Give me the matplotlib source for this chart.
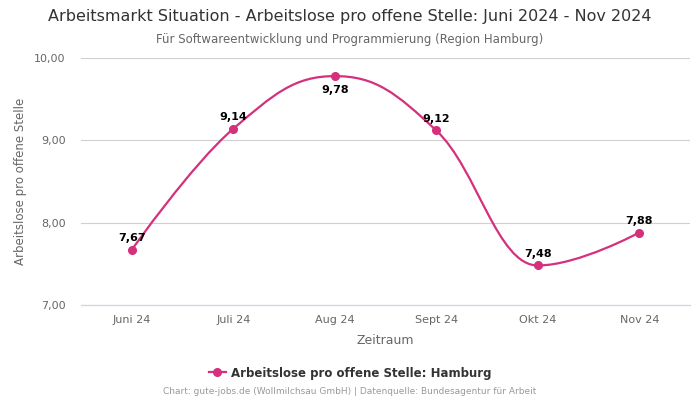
import matplotlib
matplotlib.use("Agg")
import matplotlib.pyplot as plt
from matplotlib.path import Path
from matplotlib.patches import PathPatch
from matplotlib.lines import Line2D
import numpy as np

categories = ["Juni 24", "Juli 24", "Aug 24", "Sept 24", "Okt 24", "Nov 24"]
values = [7.67, 9.14, 9.78, 9.12, 7.48, 7.88]
y_ticks = [7.0, 8.0, 9.0, 10.0]
series_name = "Arbeitslose pro offene Stelle: Hamburg"
title = "Arbeitsmarkt Situation - Arbeitslose pro offene Stelle: Juni 2024 - Nov 2024"
subtitle = "Für Softwareentwicklung und Programmierung (Region Hamburg)"
footer = "Chart: gute-jobs.de (Wollmilchsau GmbH) | Datenquelle: Bundesagentur für Arbeit"

COLOR = "#d4307c"
plt.rcParams['font.family'] = ['DejaVu Sans']

fig = plt.figure(figsize=(7, 4), dpi=100)
ax = fig.add_axes([81/700, 1-305/400, (690-81)/700, (305-58)/400])

xs = np.arange(len(values), dtype=float)
ys = np.array(values, dtype=float)

def spline_controls(xs, ys, smoothing=1.5):
    n = len(xs)
    left = [None]*n
    right = [None]*n
    denom = smoothing + 1
    for i in range(n):
        if i == 0 or i == n-1:
            left[i] = (xs[i], ys[i]); right[i] = (xs[i], ys[i]); continue
        px, py = xs[i], ys[i]
        lx, ly = xs[i-1], ys[i-1]
        nx, ny = xs[i+1], ys[i+1]
        lcx = (smoothing*px + lx)/denom; lcy = (smoothing*py + ly)/denom
        rcx = (smoothing*px + nx)/denom; rcy = (smoothing*py + ny)/denom
        if rcx != lcx:
            corr = ((rcy - lcy)*(rcx - px))/(rcx - lcx) + py - rcy
            lcy += corr; rcy += corr
        if lcy > ly and lcy > py:
            lcy = max(ly, py); rcy = 2*py - lcy
        elif lcy < ly and lcy < py:
            lcy = min(ly, py); rcy = 2*py - lcy
        if rcy > ny and rcy > py:
            rcy = max(ny, py); lcy = 2*py - rcy
        elif rcy < ny and rcy < py:
            rcy = min(ny, py); lcy = 2*py - rcy
        left[i] = (lcx, lcy); right[i] = (rcx, rcy)
    return left, right

left, right = spline_controls(xs, ys)
verts = [(xs[0], ys[0])]
codes = [Path.MOVETO]
for i in range(1, len(xs)):
    verts += [right[i-1], left[i], (xs[i], ys[i])]
    codes += [Path.CURVE4]*3
ax.add_patch(PathPatch(Path(verts, codes), fill=False, edgecolor=COLOR, lw=1.6, zorder=3))
ax.plot(xs, ys, 'o', color=COLOR, ms=5.5, zorder=4)

for i, v in enumerate(values):
    lab = f"{v:.2f}".replace(".", ",")
    if v >= 9.7:
        ax.annotate(lab, (xs[i], v), xytext=(0, -10), textcoords='offset points',
                    ha='center', va='center', fontsize=8, fontweight='bold', color='#000000', zorder=5)
    else:
        ax.annotate(lab, (xs[i], v), xytext=(0, 8.5), textcoords='offset points',
                    ha='center', va='center', fontsize=8, fontweight='bold', color='#000000', zorder=5)

ax.set_xlim(-0.5, len(values)-0.5)
ax.set_ylim(7.0, 10.0)
ax.set_yticks(y_ticks)
ax.set_yticklabels([f"{t:.2f}".replace(".", ",") for t in y_ticks])
ax.set_xticks(xs)
ax.set_xticklabels(categories)
ax.tick_params(axis='both', length=0, labelsize=8, colors='#666666')
ax.tick_params(axis='x', pad=7.5)
ax.tick_params(axis='y', pad=11)
ax.grid(axis='y', color='#d0d0d0', lw=0.8)
ax.set_axisbelow(True)
for s in ['top', 'right', 'left']:
    ax.spines[s].set_visible(False)
ax.spines['bottom'].set_color('#ccd6eb')
ax.spines['bottom'].set_linewidth(0.9)

ax.set_xlabel("Zeitraum", fontsize=9, color='#666666', labelpad=6)
fig.text(21/700, 1-181/400, "Arbeitslose pro offene Stelle", rotation=90, ha='center', va='center',
         fontsize=8.5, color='#666666')

fig.text(0.5, 1-17/400, title, ha='center', va='center', fontsize=11.5, color='#333333')
fig.text(0.5, 1-39/400, subtitle, ha='center', va='center', fontsize=8.5, color='#666666')

handle = Line2D([0], [0], color=COLOR, lw=1.6, marker='o', ms=5.5)
fig.legend([handle], [series_name], loc='center', bbox_to_anchor=(0.5, 1-373/400), frameon=False,
           prop={'size': 8.5, 'weight': 'bold'}, labelcolor='#333333', handlelength=1.5, handletextpad=0.4)
fig.text(0.5, 1-392/400, footer, ha='center', va='center', fontsize=6.5, color='#999999')

fig.savefig("out.png", dpi=100, facecolor='white')
